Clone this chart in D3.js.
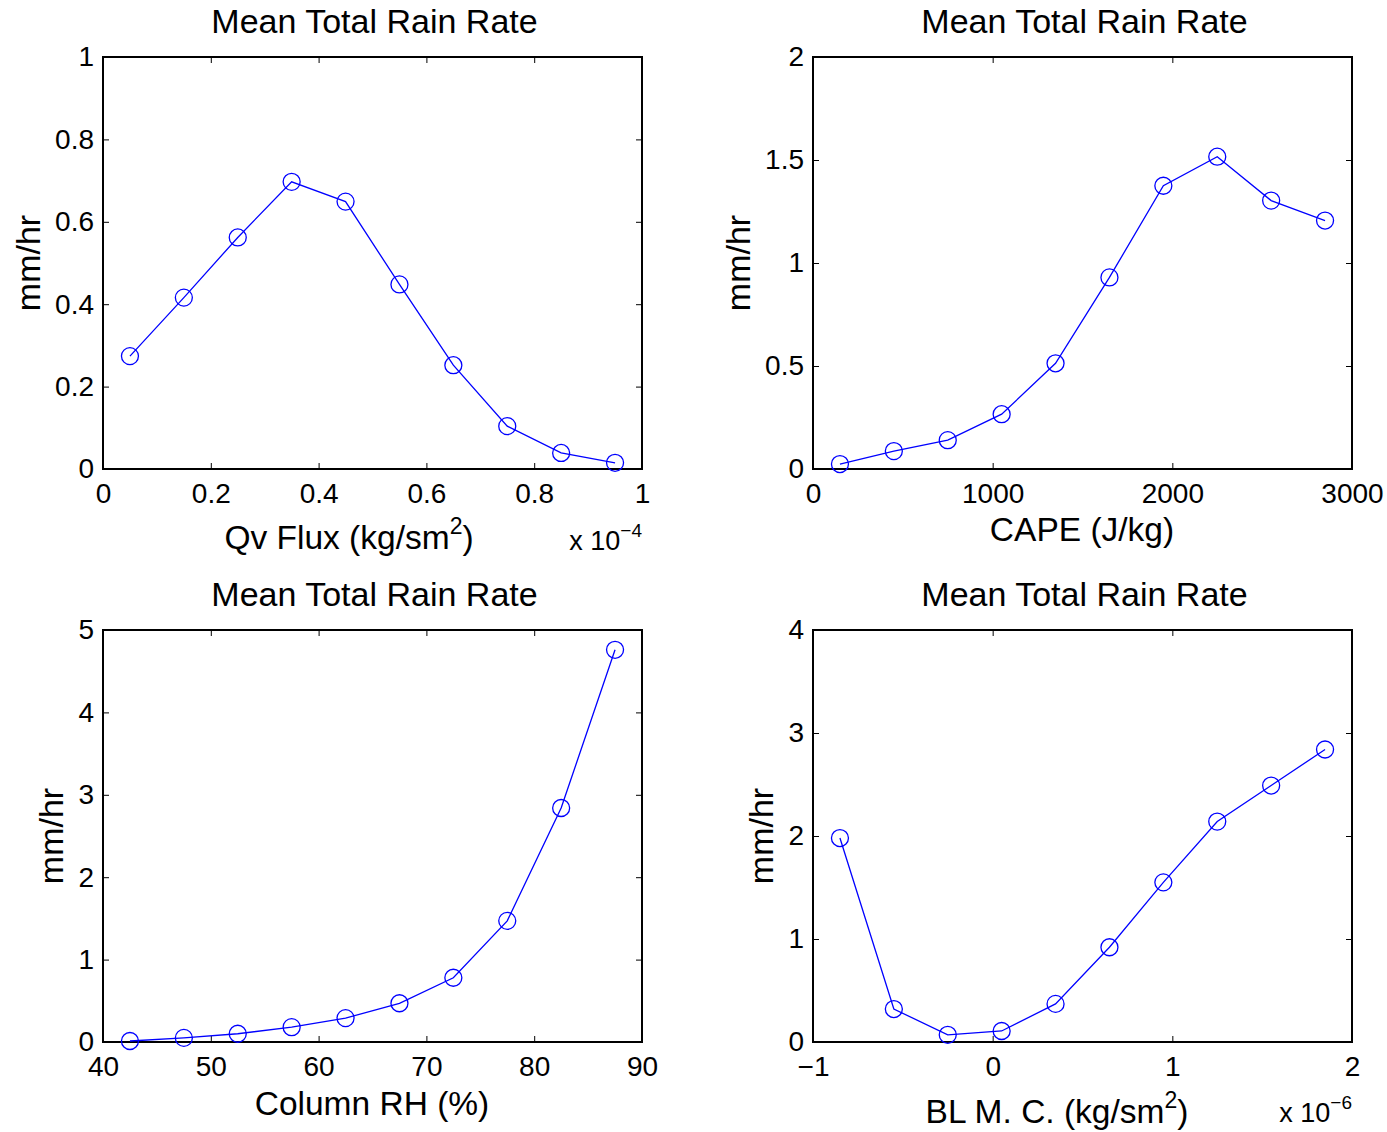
<!DOCTYPE html>
<html>
<head>
<meta charset="utf-8">
<script src="https://cdn.jsdelivr.net/npm/d3@7"></script>
<style>
  body { margin: 0; background: #fff; }
  svg text { font-family: "Liberation Sans", Arial, sans-serif; fill: #000; }
</style>
</head>
<body>
<svg id="fig" width="1387" height="1132"></svg>
<script>
// values
var qvFlux = [0.05, 0.15, 0.25, 0.35, 0.45, 0.55, 0.65, 0.75, 0.85, 0.95];
var qvRain = [0.274, 0.416, 0.562, 0.697, 0.649, 0.448, 0.252, 0.104, 0.039, 0.015];

var cape = [150, 450, 750, 1050, 1350, 1650, 1950, 2250, 2550, 2850];
var capeRain = [0.024, 0.087, 0.140, 0.266, 0.513, 0.930, 1.375, 1.516, 1.303, 1.206];

var colRH = [42.5, 47.5, 52.5, 57.5, 62.5, 67.5, 72.5, 77.5, 82.5, 87.5];
var rhRain = [0.012, 0.05, 0.10, 0.18, 0.29, 0.47, 0.78, 1.47, 2.84, 4.76];

var blmc = [-0.85, -0.55, -0.25, 0.05, 0.35, 0.65, 0.95, 1.25, 1.55, 1.85];
var blmcRain = [1.98, 0.32, 0.07, 0.107, 0.37, 0.92, 1.55, 2.14, 2.49, 2.84];

var svg = d3.select('#fig');

function panel(opts) {
    var g = svg.append('g');
    var x = d3.scaleLinear().domain(opts.xDomain).range([opts.left, opts.right]);
    var y = d3.scaleLinear().domain(opts.yDomain).range([opts.bottom, opts.top]);
    var tick = 6;

    // box ticks, inward on all sides
    var xt = g.append('g').attr('transform', 'translate(0,' + opts.bottom + ')')
        .call(d3.axisBottom(x).tickValues(opts.xTicks).tickSize(-tick).tickPadding(14).tickFormat(opts.xFmt));
    g.append('g').attr('transform', 'translate(0,' + opts.top + ')')
        .call(d3.axisTop(x).tickValues(opts.xTicks).tickSize(-tick).tickFormat(''));
    var yt = g.append('g').attr('transform', 'translate(' + opts.left + ',0)')
        .call(d3.axisLeft(y).tickValues(opts.yTicks).tickSize(-tick).tickPadding(9).tickFormat(opts.yFmt));
    g.append('g').attr('transform', 'translate(' + opts.right + ',0)')
        .call(d3.axisRight(y).tickValues(opts.yTicks).tickSize(-tick).tickFormat(''));
    g.selectAll('.domain').remove();
    g.selectAll('.tick line').attr('stroke', '#000').attr('stroke-width', 1);
    g.selectAll('.tick text').style('font-size', '28px').attr('fill', '#000');
    xt.selectAll('.tick text').attr('dy', '0.71em');

    g.append('rect')
        .attr('x', opts.left).attr('y', opts.top)
        .attr('width', opts.right - opts.left).attr('height', opts.bottom - opts.top)
        .attr('fill', 'none').attr('stroke', '#000').attr('stroke-width', 2);

    var line = d3.line().x(function(d) { return x(d[0]); }).y(function(d) { return y(d[1]); });
    var pts = opts.xs.map(function(v, i) { return [v, opts.ys[i]]; });
    g.append('path').datum(pts).attr('d', line)
        .attr('fill', 'none').attr('stroke', '#0000ff').attr('stroke-width', 1.3);
    g.selectAll('circle.pt').data(pts).enter().append('circle')
        .attr('class', 'pt')
        .attr('cx', function(d) { return x(d[0]); })
        .attr('cy', function(d) { return y(d[1]); })
        .attr('r', 8.5)
        .attr('fill', 'none').attr('stroke', '#0000ff').attr('stroke-width', 1.3);

    var mid = (opts.left + opts.right) / 2;
    g.append('text').attr('x', mid + 2).attr('y', opts.top - 24)
        .attr('text-anchor', 'middle').style('font-size', '34px').text('Mean Total Rain Rate');

    g.append('text').attr('transform', 'translate(' + opts.yLabelX + ',' + (opts.top + opts.bottom) / 2 + ') rotate(-90)')
        .attr('text-anchor', 'middle').style('font-size', '34px').text('mm/hr');

    var xl = g.append('text').attr('x', opts.xLabelX).attr('y', opts.xLabelY)
        .attr('text-anchor', 'middle').style('font-size', '33.5px');
    xl.append('tspan').text(opts.xLabel[0]);
    if (opts.xLabel.length > 1) {
        xl.append('tspan').attr('dy', -15).style('font-size', '23px').text(opts.xLabel[1]);
        xl.append('tspan').attr('dy', 15).text(opts.xLabel[2]);
    }

    if (opts.exp) {
        var ex = g.append('text').attr('x', opts.right).attr('y', opts.expY)
            .attr('text-anchor', 'end').style('font-size', '27px');
        ex.append('tspan').text('x 10');
        ex.append('tspan').attr('dy', -13).style('font-size', '19px').text(opts.exp);
    }
}

function fmtNum(d) { return d3.format('')(d).replace('-', '\u2212'); }

panel({
    left: 103, right: 642, top: 57, bottom: 469,
    xDomain: [0, 1], yDomain: [0, 1],
    xTicks: [0, 0.2, 0.4, 0.6, 0.8, 1], yTicks: [0, 0.2, 0.4, 0.6, 0.8, 1],
    xFmt: fmtNum, yFmt: fmtNum,
    xs: qvFlux, ys: qvRain,
    yLabelX: 40, xLabelX: 349, xLabelY: 549,
    xLabel: ['Qv Flux (kg/sm', '2', ')'],
    exp: '\u22124', expY: 550
});

panel({
    left: 813, right: 1352, top: 57, bottom: 469,
    xDomain: [0, 3000], yDomain: [0, 2],
    xTicks: [0, 1000, 2000, 3000], yTicks: [0, 0.5, 1, 1.5, 2],
    xFmt: fmtNum, yFmt: fmtNum,
    xs: cape, ys: capeRain,
    yLabelX: 750, xLabelX: 1082, xLabelY: 541,
    xLabel: ['CAPE (J/kg)']
});

panel({
    left: 103, right: 642, top: 630, bottom: 1042,
    xDomain: [40, 90], yDomain: [0, 5],
    xTicks: [40, 50, 60, 70, 80, 90], yTicks: [0, 1, 2, 3, 4, 5],
    xFmt: fmtNum, yFmt: fmtNum,
    xs: colRH, ys: rhRain,
    yLabelX: 63, xLabelX: 372, xLabelY: 1115,
    xLabel: ['Column RH (%)']
});

panel({
    left: 813, right: 1352, top: 630, bottom: 1042,
    xDomain: [-1, 2], yDomain: [0, 4],
    xTicks: [-1, 0, 1, 2], yTicks: [0, 1, 2, 3, 4],
    xFmt: fmtNum, yFmt: fmtNum,
    xs: blmc, ys: blmcRain,
    yLabelX: 773, xLabelX: 1057, xLabelY: 1123,
    xLabel: ['BL M. C. (kg/sm', '2', ')'],
    exp: '\u22126', expY: 1122
});
</script>
</body>
</html>
